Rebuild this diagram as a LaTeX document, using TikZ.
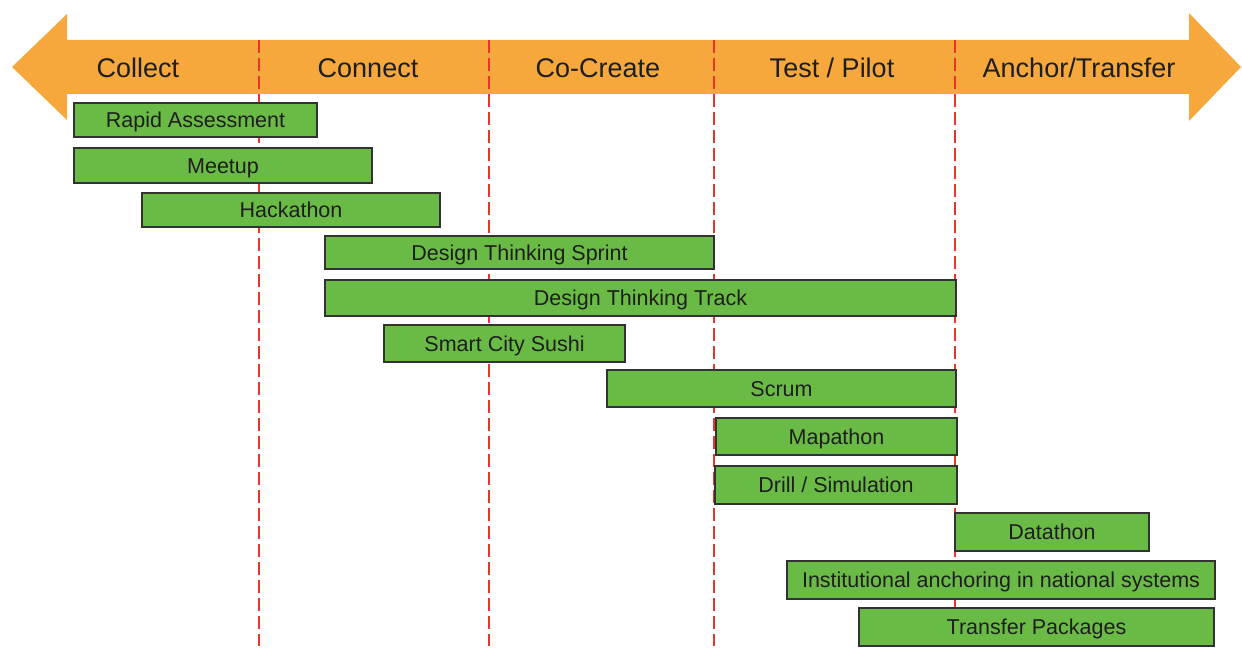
\documentclass[tikz,border=0pt]{standalone}
\usepackage{fontspec}
\setmainfont{Liberation Sans}
\definecolor{arrOrange}{RGB}{246,168,60}
\definecolor{barGreen}{RGB}{106,187,69}
\definecolor{barEdge}{RGB}{50,50,50}
\definecolor{dashRed}{RGB}{232,52,42}
\definecolor{txt}{RGB}{30,30,30}
\begin{document}
\begin{tikzpicture}[x=1pt,y=-1pt,
  bar/.style={draw=barEdge, line width=1.4pt, fill=barGreen, inner sep=0pt, outer sep=0pt,
    anchor=north west, text=txt, font=\fontsize{21.5}{25}\selectfont, text height=15.4pt, text depth=0pt},
  phase/.style={inner sep=0pt, text=txt, font=\fontsize{27}{32}\selectfont, text height=19.3pt, text depth=0pt},
  divider/.style={draw=dashRed, line width=1.8pt, dash pattern=on 13pt off 5pt}]
\useasboundingbox (0,0) rectangle (1242,650);
% big double arrow
\fill[arrOrange] (12,67) -- (67,14) -- (67,40) -- (1189,40) -- (1189,13) -- (1241,67)
  -- (1189,121) -- (1189,94) -- (67,94) -- (67,120) -- cycle;
% phase dividers
\foreach \x in {259,489,714,955} \draw[divider] (\x,40) -- (\x,646);
% phase labels
\node[phase] (collect) at (138,67.5) {Collect};
\node[phase] (connect) at (368,67.5) {Connect};
\node[phase] (cocreate) at (598,67.5) {Co-Create};
\node[phase] (test) at (832,67.5) {Test / Pilot};
\node[phase] (anchor) at (1079,67.5) {Anchor/Transfer};
% bars
\node[bar, minimum width=243pt, minimum height=34pt] (ra) at (74,103) {Rapid Assessment};
\node[bar, minimum width=298pt, minimum height=35pt] (meetup) at (74,148) {Meetup};
\node[bar, minimum width=298pt, minimum height=34pt] (hack) at (142,193) {Hackathon};
\node[bar, minimum width=389pt, minimum height=33pt] (dts) at (325,236) {Design Thinking Sprint};
\node[bar, minimum width=631pt, minimum height=36pt] (dtt) at (325,280) {Design Thinking Track};
\node[bar, minimum width=241pt, minimum height=37pt] (sushi) at (384,325) {Smart City Sushi};
\node[bar, minimum width=349pt, minimum height=37pt] (scrum) at (607,370) {Scrum};
\node[bar, minimum width=241pt, minimum height=37pt] (map) at (716,418) {Mapathon};
\node[bar, minimum width=242pt, minimum height=38pt] (drill) at (715,466) {Drill / Simulation};
\node[bar, minimum width=194pt, minimum height=38pt] (data) at (955,513) {Datathon};
\node[bar, minimum width=428pt, minimum height=38pt] (inst) at (787,561) {Institutional anchoring in national systems};
\node[bar, minimum width=355pt, minimum height=38pt] (transfer) at (859,608) {Transfer Packages};
\end{tikzpicture}
\end{document}
